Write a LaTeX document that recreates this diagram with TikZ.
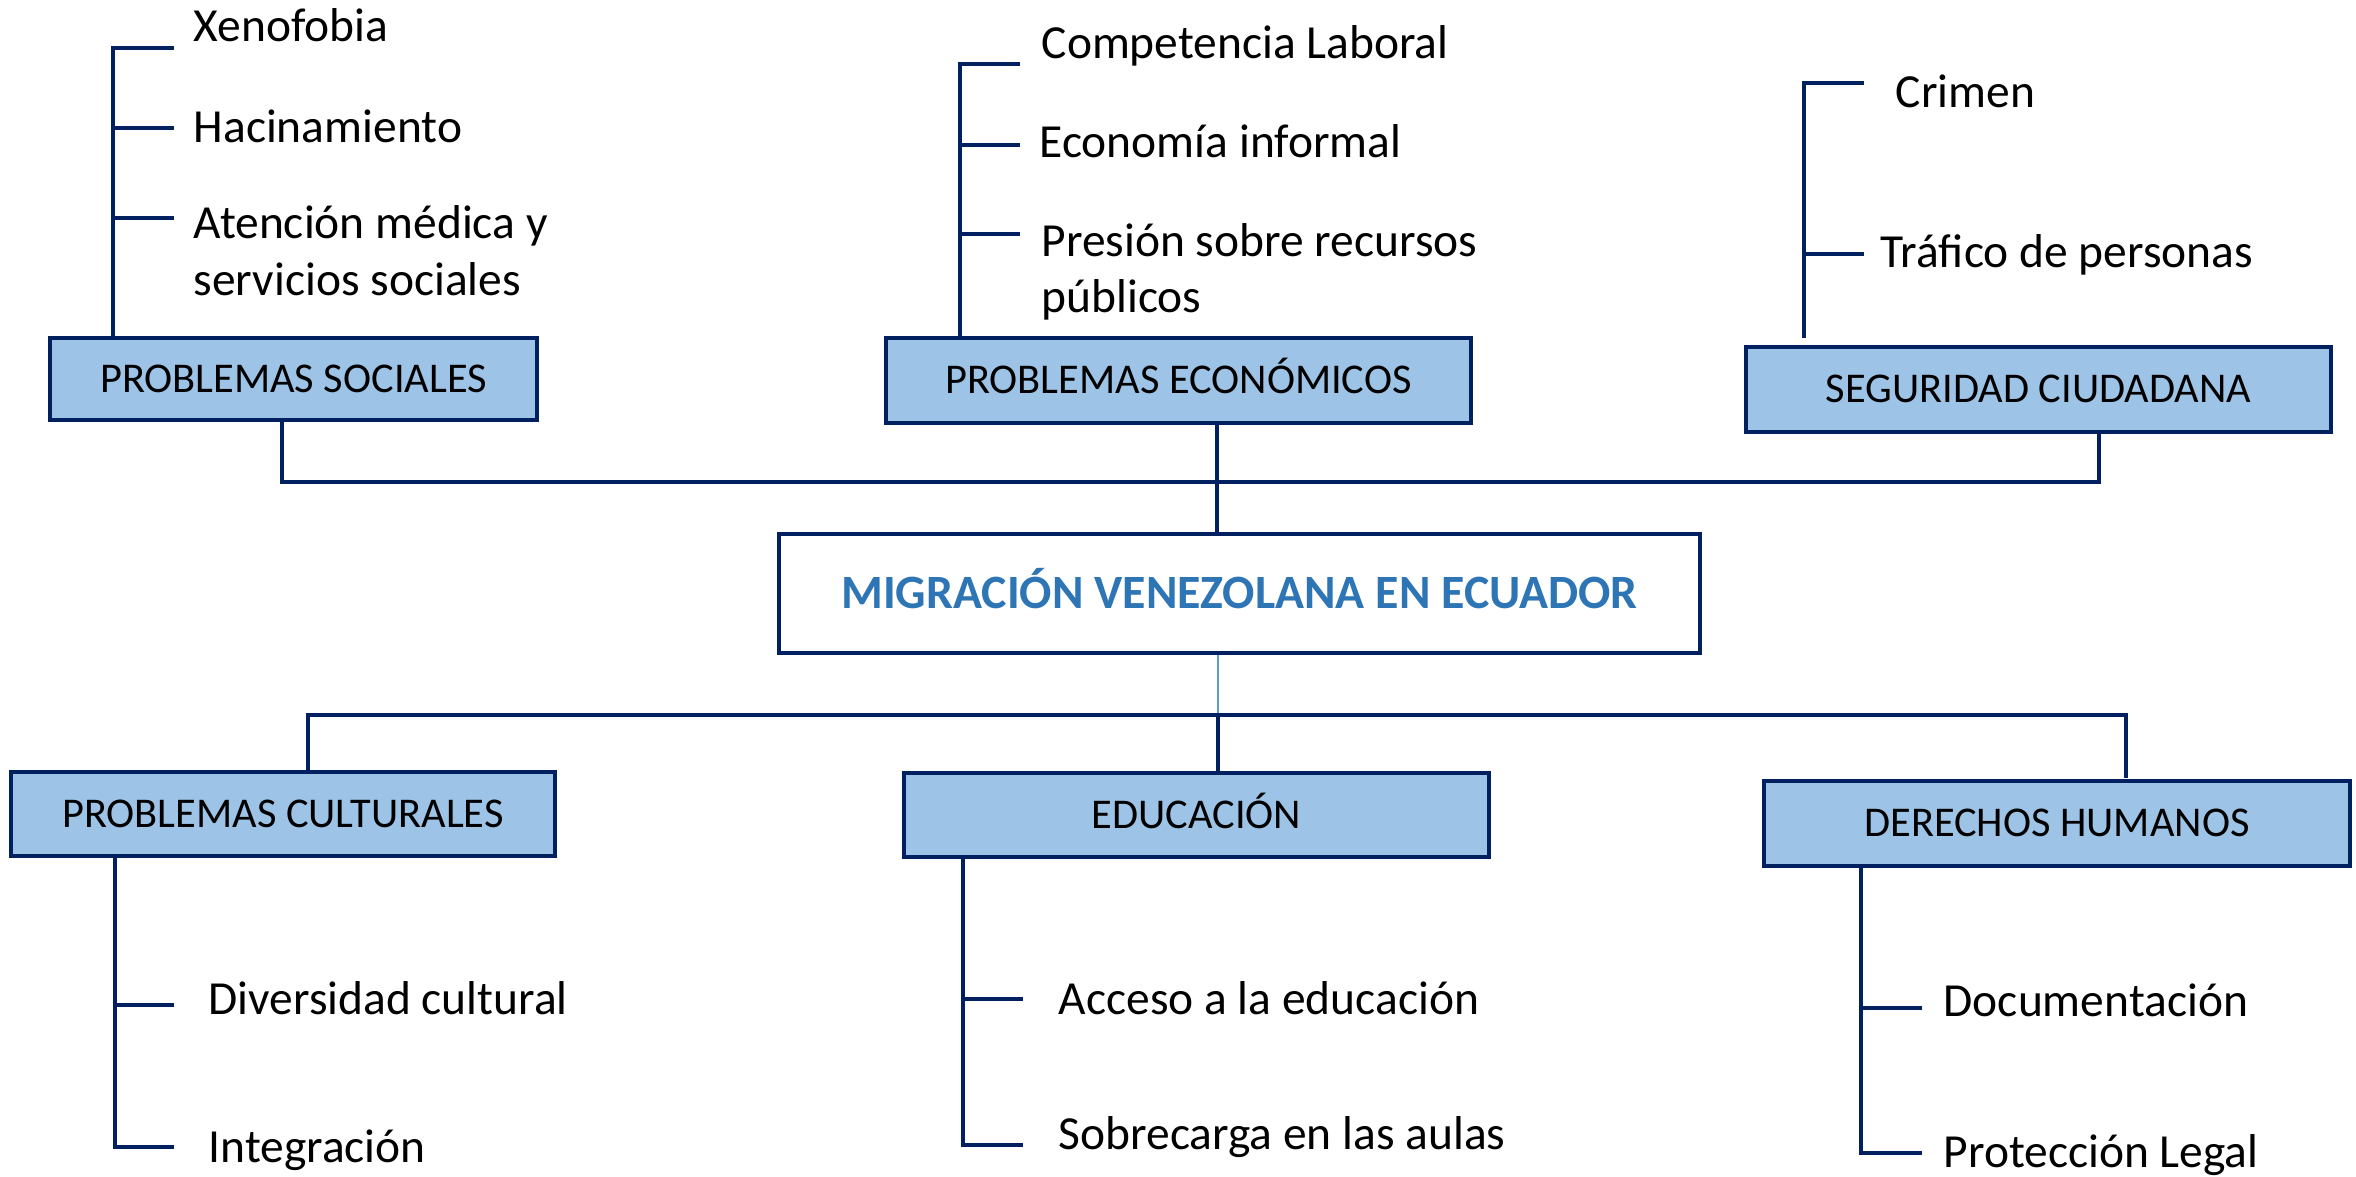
\documentclass[tikz,border=0pt]{standalone}
\usepackage{fontspec}
\setmainfont{Carlito}
\definecolor{navy}{HTML}{002060}
\definecolor{boxfill}{HTML}{9DC3E6}
\definecolor{titleblue}{HTML}{2E75B6}
\definecolor{thinblue}{HTML}{5B9BD5}
\begin{document}
\begin{tikzpicture}[x=0.01cm,y=-0.01cm,
  catbox/.style={draw=navy,fill=boxfill,line width=1.15pt,inner sep=0pt,
    font=\fontsize{12.05}{14}\selectfont,text height=0.267cm,text depth=0pt},
  mainbox/.style={draw=navy,fill=white,line width=1.15pt,inner sep=0pt,
    minimum width=9.21cm,minimum height=1.19cm,
    font=\bfseries\fontsize{13.6}{16}\selectfont,text=titleblue,text height=0.3cm,text depth=0pt},
  item/.style={inner sep=0pt,anchor=base west,font=\fontsize{13.5}{16.2}\selectfont,align=left},
  conn/.style={draw=navy,line width=1.1pt},
  thin/.style={draw=thinblue,line width=0.6pt}]
\useasboundingbox (0,0) rectangle (2356,1177);

% boxes
\node[catbox,minimum width=4.87cm,minimum height=0.82cm] (soc) at (293.5,379) {PROBLEMAS SOCIALES};
\node[catbox,minimum width=5.85cm,minimum height=0.85cm] (eco) at (1178.5,380.5) {PROBLEMAS ECONÓMICOS};
\node[catbox,minimum width=5.85cm,minimum height=0.85cm] (seg) at (2038.5,389.5) {SEGURIDAD CIUDADANA};
\node[mainbox] (main) at (1239.5,593.5) {MIGRACIÓN VENEZOLANA EN ECUADOR};
\node[catbox,minimum width=5.44cm,minimum height=0.84cm] (cul) at (283,814) {PROBLEMAS CULTURALES};
\node[catbox,minimum width=5.85cm,minimum height=0.84cm] (edu) at (1196.5,815) {EDUCACIÓN};
\node[catbox,minimum width=5.86cm,minimum height=0.85cm] (der) at (2057,823.5) {DERECHOS HUMANOS};

% items
\node[item] (i11) at (193,42) {Xenofobia};
\node[item] (i12) at (193,143) {Hacinamiento};
\node[item] (i13) at (193,239) {Atención médica y};
\node[item] (i13b) at (193,296) {servicios sociales};
\node[item] (i21) at (1041,59) {Competencia Laboral};
\node[item] (i22) at (1039,158) {Economía informal};
\node[item] (i23) at (1041,257) {Presión sobre recursos};
\node[item] (i23b) at (1041,313) {públicos};
\node[item] (i31) at (1895,108) {Crimen};
\node[item] (i32) at (1880,268) {Tráfico de personas};
\node[item] (i41) at (208,1015) {Diversidad cultural};
\node[item] (i42) at (208,1163) {Integración};
\node[item] (i51) at (1058,1015) {Acceso a la educación};
\node[item] (i52) at (1058,1150) {Sobrecarga en las aulas};
\node[item] (i61) at (1943,1017) {Documentación};
\node[item] (i62) at (1943,1168) {Protección Legal};

% coordinates of the buses
\coordinate (tbL) at (282,482);
\coordinate (tbM) at (1217,482);
\coordinate (tbR) at (2099,482);
\coordinate (bbL) at (308,715);
\coordinate (bbM) at (1218,715);
\coordinate (bbR) at (2126,715);
\coordinate (derT) at (2126,778);

% top bus
\draw[conn] (tbL |- soc.south) -- (tbL) -- (tbR) -- (tbR |- seg.south);
\draw[conn] (tbM |- eco.south) -- (tbM |- main.north);
% bottom bus
\draw[thin] (bbM |- main.south) -- (bbM);
\draw[conn] (bbL |- cul.north) -- (bbL) -- (bbR) -- (derT);
\draw[conn] (bbM) -- (bbM |- edu.north);

% branches: social
\coordinate (s1) at (113,48);
\coordinate (s2) at (113,128);
\coordinate (s3) at (113,218);
\draw[conn] (s1 |- soc.north) -- (s1) -- (174,48);
\draw[conn] (s2) -- (174,128);
\draw[conn] (s3) -- (174,218);
% economic
\coordinate (e1) at (960,64);
\coordinate (e2) at (960,145);
\coordinate (e3) at (960,234);
\draw[conn] (e1 |- eco.north) -- (e1) -- (1020,64);
\draw[conn] (e2) -- (1020,145);
\draw[conn] (e3) -- (1020,234);
% security
\coordinate (g0) at (1804,338);
\coordinate (g1) at (1804,83);
\coordinate (g2) at (1804,254);
\draw[conn] (g0) -- (g1) -- (1864,83);
\draw[conn] (g2) -- (1864,254);
% cultural
\coordinate (c1) at (115,1005);
\coordinate (c2) at (115,1147);
\draw[conn] (c1 |- cul.south) -- (c2) -- (174,1147);
\draw[conn] (c1) -- (174,1005);
% education
\coordinate (d1) at (963,999);
\coordinate (d2) at (963,1145);
\draw[conn] (d1 |- edu.south) -- (d2) -- (1023,1145);
\draw[conn] (d1) -- (1023,999);
% human rights
\coordinate (h1) at (1861,1008);
\coordinate (h2) at (1861,1153);
\draw[conn] (h1 |- der.south) -- (h2) -- (1922,1153);
\draw[conn] (h1) -- (1922,1008);
\end{tikzpicture}
\end{document}
